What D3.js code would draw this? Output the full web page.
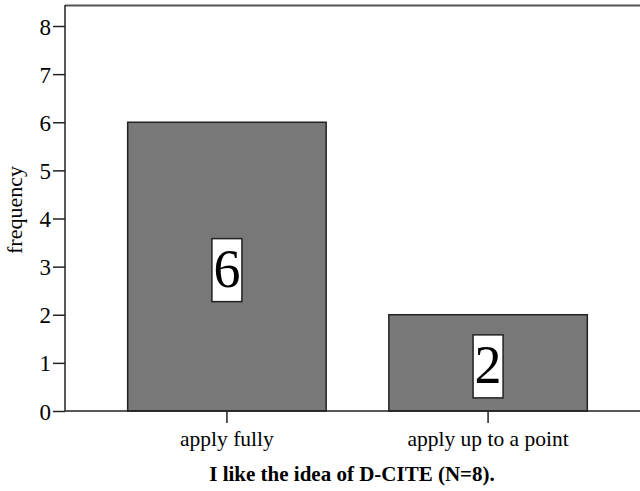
<!DOCTYPE html>
<html>
<head>
<meta charset="utf-8">
<script src="https://cdn.jsdelivr.net/npm/d3@7"></script>
<style>
  body { margin: 0; background: #fff; }
  text { font-family: "Liberation Serif", "Times New Roman", serif; fill: #000; }
</style>
</head>
<body>
<svg width="640" height="491"></svg>
<script>
// data
var categories = ["apply fully", "apply up to a point"];
var counts = [6, 2];
var yTicks = [0, 1, 2, 3, 4, 5, 6, 7, 8];

var svg = d3.select("svg");
var plotLeft = 65, plotRight = 640, plotTop = 5, plotBottom = 411;

var y = d3.scaleLinear().domain([0, 8]).range([plotBottom, 26]);
var x = d3.scaleBand().domain(categories).range([plotLeft, 650]).paddingInner(0.24).paddingOuter(0.24);

// top border
svg.append("line")
    .attr("x1", plotLeft).attr("x2", plotRight)
    .attr("y1", plotTop + 0.5).attr("y2", plotTop + 0.5)
    .attr("stroke", "#555").attr("stroke-width", 2);

// bars
svg.selectAll("rect.bar")
    .data(counts)
    .join("rect")
    .attr("class", "bar")
    .attr("x", (d, i) => x(categories[i]))
    .attr("width", x.bandwidth())
    .attr("y", d => y(d))
    .attr("height", d => y(0) - y(d))
    .attr("fill", "#787878")
    .attr("stroke", "#222")
    .attr("stroke-width", 1.5);

// value labels
var lab = svg.selectAll("g.lab")
    .data(counts)
    .join("g")
    .attr("class", "lab")
    .attr("transform", (d, i) => "translate(" + (x(categories[i]) + x.bandwidth() / 2) + "," + y(d / 2) + ")");
lab.append("rect")
    .attr("x", -15).attr("y", -28).attr("width", 30).attr("height", 63)
    .attr("fill", "#fff").attr("stroke", "#222").attr("stroke-width", 1.5);
lab.append("text")
    .attr("text-anchor", "middle")
    .attr("y", 20)
    .style("font-size", "54px")
    .text(d => d);

// y axis
var yAxis = d3.axisLeft(y).tickValues(yTicks).tickSize(12).tickFormat(d3.format("d"));
var gy = svg.append("g").attr("transform", "translate(" + plotLeft + ",0)").call(yAxis);
gy.select(".domain").attr("d", "M0," + plotTop + "V" + plotBottom).attr("stroke", "#222").attr("stroke-width", 1.5);
gy.selectAll(".tick line").attr("stroke", "#222").attr("stroke-width", 1.5);
gy.selectAll(".tick text").attr("x", -14).attr("dy", "0.35em")
    .style("font-size", "23px").style("font-family", "Liberation Serif");

// x axis
var xAxis = d3.axisBottom(x).tickSize(12);
var gx = svg.append("g").attr("transform", "translate(0," + plotBottom + ")").call(xAxis);
gx.select(".domain").attr("d", "M" + plotLeft + ",0H" + plotRight).attr("stroke", "#222").attr("stroke-width", 1.5);
gx.selectAll(".tick line").attr("stroke", "#222").attr("stroke-width", 1.5);
gx.selectAll(".tick text").attr("y", 20).attr("dy", "0.71em")
    .style("font-size", "21.5px").style("font-family", "Liberation Serif");

// axis titles
svg.append("text")
    .attr("transform", "translate(22,210) rotate(-90)")
    .attr("text-anchor", "middle")
    .style("font-size", "22px")
    .text("frequency");

svg.append("text")
    .attr("x", 352)
    .attr("y", 481)
    .attr("text-anchor", "middle")
    .style("font-size", "21px")
    .style("font-weight", "bold")
    .text("I like the idea of D-CITE (N=8).");
</script>
</body>
</html>
